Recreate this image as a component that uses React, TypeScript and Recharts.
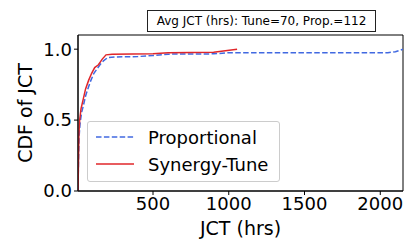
import { LineChart, Line, XAxis, YAxis, ReferenceArea, Label } from 'recharts';

// CDF of job completion time
const tuneJct = [5, 8, 11, 16, 25, 40, 55, 75, 95, 115, 140, 165, 190, 230, 500, 600, 900, 1055];
const tuneCdf = [0, 0.2, 0.4, 0.5, 0.58, 0.65, 0.72, 0.78, 0.83, 0.87, 0.89, 0.93, 0.96, 0.965, 0.967, 0.975, 0.978, 1.0];

const propJct = [5, 8, 12, 18, 28, 40, 55, 70, 90, 110, 130, 150, 175, 200, 250, 400, 500, 600, 900, 1000, 2050, 2100, 2150];
const propCdf = [0, 0.2, 0.38, 0.47, 0.55, 0.6, 0.67, 0.72, 0.78, 0.83, 0.86, 0.89, 0.92, 0.94, 0.945, 0.948, 0.955, 0.965, 0.967, 0.975, 0.975, 0.982, 1.0];

const xTicks = [500, 1000, 1500, 2000];
const yTicks = [0, 0.5, 1.0];
const titleText = 'Avg JCT (hrs): Tune=70, Prop.=112';

const RED = '#e0262a';
const BLUE = '#4169e1';
const FONT = '"DejaVu Sans", sans-serif';

const tuneData = tuneJct.map((x, i) => ({ x, y: tuneCdf[i] }));
const propData = propJct.map((x, i) => ({ x, y: propCdf[i] }));

export default function App() {
  const tick = { fontSize: 18, fill: '#000', fontFamily: FONT };
  const labelStyle = { fontSize: 19, fill: '#000', fontFamily: FONT };
  return (
    <div style={{ position: 'absolute', left: 0, top: 0, width: 407, height: 240, background: '#fff', fontFamily: FONT }}>
      <LineChart width={407} height={240} margin={{ top: 35, right: 4, left: 0, bottom: 0 }}>
        <XAxis
          type="number" dataKey="x" domain={[5, 2150]} ticks={xTicks} allowDataOverflow
          height={49} tick={tick} tickSize={4} stroke="#000" interval={0}
        >
          <Label value="JCT (hrs)" position="insideBottom" offset={5} style={labelStyle} />
        </XAxis>
        <YAxis
          type="number" dataKey="y" domain={[0, 1.1]} ticks={yTicks} allowDataOverflow
          width={78} tick={tick} tickSize={4} stroke="#000" tickFormatter={(v) => Number(v).toFixed(1)}
        >
          <Label value="CDF of JCT" angle={-90} position="insideLeft" offset={25} style={{ ...labelStyle, textAnchor: 'middle' }} />
        </YAxis>
        <ReferenceArea x1={5} x2={2150} y1={0} y2={1.1} fill="none" stroke="#000" strokeWidth={1} />
        <Line data={propData} dataKey="y" type="linear" stroke={BLUE} strokeWidth={1.5} strokeDasharray="5.5 2.4" dot={false} isAnimationActive={false} />
        <Line data={tuneData} dataKey="y" type="linear" stroke={RED} strokeWidth={1.5} dot={false} isAnimationActive={false} />
      </LineChart>

      <div style={{
        position: 'absolute', left: 147, top: 10, width: 227, height: 20, border: '1px solid #222',
        fontSize: 12, lineHeight: '20px', textAlign: 'center', color: '#000', whiteSpace: 'nowrap',
      }}>
        {titleText}
      </div>

      <div style={{
        position: 'absolute', left: 87, top: 121, width: 191, height: 59, border: '1px solid #ccc',
        borderRadius: 3, background: 'rgba(255,255,255,0.8)', fontSize: 18, color: '#000',
      }}>
        {[{ name: 'Proportional', color: BLUE, dash: '5.5 2.4' }, { name: 'Synergy-Tune', color: RED, dash: undefined }].map((s, i) => (
          <div key={s.name} style={{ position: 'absolute', left: 0, top: 4 + i * 27, height: 22, display: 'flex', alignItems: 'center' }}>
            <svg width={60} height={22}>
              <line x1={8} x2={46} y1={11} y2={11} stroke={s.color} strokeWidth={1.5} strokeDasharray={s.dash} />
            </svg>
            <span style={{ whiteSpace: 'nowrap' }}>{s.name}</span>
          </div>
        ))}
      </div>
    </div>
  );
}
